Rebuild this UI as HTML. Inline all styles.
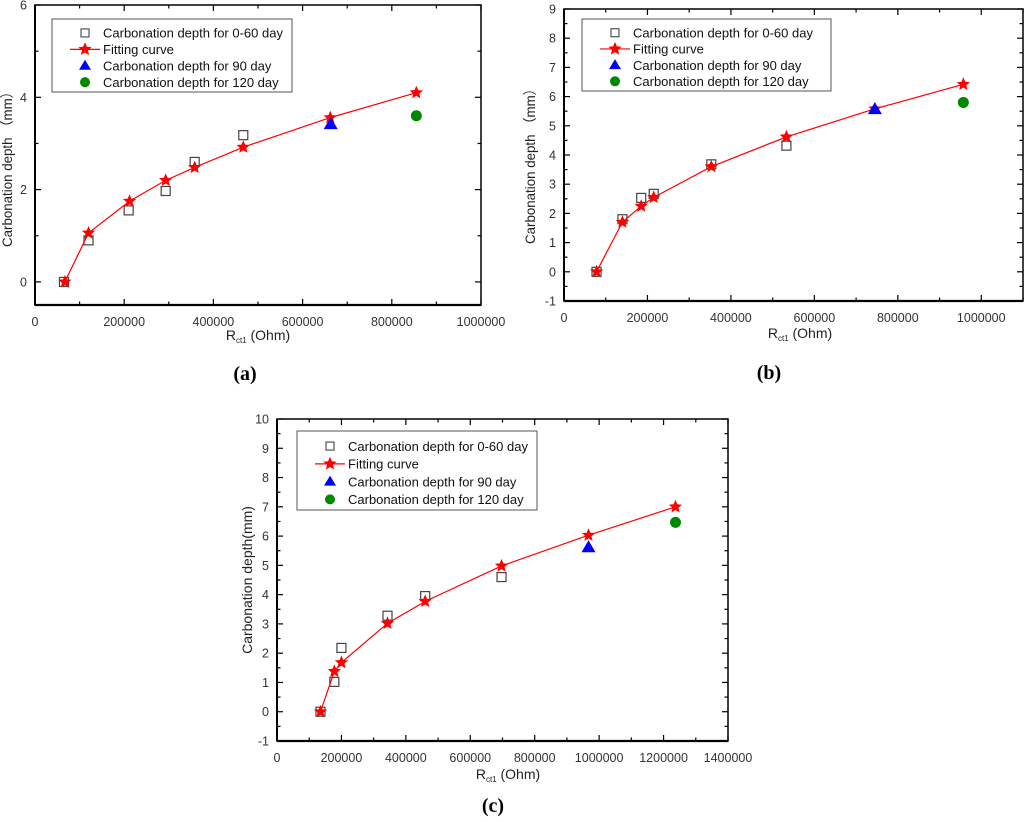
<!DOCTYPE html>
<html><head><meta charset="utf-8"><style>
html,body{margin:0;padding:0;background:#fff;}
svg{display:block;font-family:"Liberation Sans","Noto Sans CJK SC",sans-serif;}
</style></head><body>
<svg id="fig" width="1024" height="822" viewBox="0 0 1024 822" xmlns="http://www.w3.org/2000/svg"></svg>
<script>
// ---- chart (a) data ----
const aSqX=[65000,120000,210000,293000,358000,467000];
const aSqY=[0,0.9,1.55,1.97,2.6,3.18];
const aFitX=[67000,120000,212000,293000,358000,467000,662000,855000];
const aFitY=[0,1.06,1.75,2.2,2.48,2.92,3.56,4.1];
const aTriX=[663000]; const aTriY=[3.42];
const aCirX=[855000]; const aCirY=[3.6];
const aXTicks=[0,200000,400000,600000,800000,1000000];
const aYTicks=[0,2,4,6];
// ---- chart (b) data ----
const bSqX=[78000,140000,185000,215000,353000,533000];
const bSqY=[0,1.8,2.53,2.67,3.68,4.32];
const bFitX=[78000,140000,185000,215000,353000,533000,745000,957000];
const bFitY=[0,1.7,2.25,2.55,3.6,4.62,5.58,6.42];
const bTriX=[745000]; const bTriY=[5.57];
const bCirX=[957000]; const bCirY=[5.8];
const bXTicks=[0,200000,400000,600000,800000,1000000];
const bYTicks=[-1,0,1,2,3,4,5,6,7,8,9];
// ---- chart (c) data ----
const cSqX=[135000,178000,200000,343000,460000,697000];
const cSqY=[0,1.02,2.18,3.28,3.95,4.6];
const cFitX=[135000,178000,200000,343000,460000,697000,967000,1237000];
const cFitY=[0,1.38,1.68,3.02,3.77,4.98,6.03,7.0];
const cTriX=[967000]; const cTriY=[5.62];
const cCirX=[1237000]; const cCirY=[6.47];
const cXTicks=[0,200000,400000,600000,800000,1000000,1200000,1400000];
const cYTicks=[-1,0,1,2,3,4,5,6,7,8,9,10];

const NS="http://www.w3.org/2000/svg";
const svg=document.getElementById('fig');
function mk(tag,attrs,parent,text){
  const e=document.createElementNS(NS,tag);
  for(const k in attrs) e.setAttribute(k,attrs[k]);
  if(text!==undefined) e.textContent=text;
  (parent||svg).appendChild(e);
  return e;
}
function starPts(cx,cy,R){
  const r=R*0.45;let p=[];
  for(let i=0;i<10;i++){const a=-Math.PI/2+i*Math.PI/5;const rr=i%2?r:R;p.push((cx+rr*Math.cos(a)).toFixed(1)+','+(cy+rr*Math.sin(a)).toFixed(1));}
  return p.join(' ');
}
function chart(o){
  const g=mk('g',{});
  
  
  const X=v=>o.L+(v-o.x0)/(o.x1-o.x0)*(o.R-o.L);
  const Y=v=>o.B-(v-o.y0)/(o.y1-o.y0)*(o.B-o.T);
  const tg=mk('g',{stroke:'#000','stroke-width':1.2},g);
  
  
  const xs=o.xt[1]-o.xt[0];
  for(let v=o.x0;v<=o.x1+1;v+=xs/2){
    const major=Math.abs((v/xs)-Math.round(v/xs))<1e-6; const len=major?6:3.5; const x=X(v);
    mk('line',{x1:x,y1:o.B,x2:x,y2:o.B-len},tg); mk('line',{x1:x,y1:o.T,x2:x,y2:o.T+len},tg);
  }
  const ys=o.yt[1]-o.yt[0];
  for(let v=o.yt[0];v<=o.y1+1e-6;v+=ys/2){
    if(v<o.y0-1e-6) continue;
    const major=Math.abs((v-o.yt[0])/ys-Math.round((v-o.yt[0])/ys))<1e-6; const len=major?6:3.5; const y=Y(v);
    mk('line',{x1:o.L,y1:y,x2:o.L+len,y2:y},tg); mk('line',{x1:o.R,y1:y,x2:o.R-len,y2:y},tg);
  }
  mk('rect',{x:o.L,y:o.T,width:o.R-o.L,height:o.B-o.T,fill:'none',stroke:'#000','stroke-width':1.5},g);
  mk('line',{x1:o.L,y1:o.B,x2:o.R,y2:o.B,stroke:'#000','stroke-width':2.2},g);
  mk('line',{x1:o.L,y1:o.T,x2:o.L,y2:o.B,stroke:'#000','stroke-width':2},g);
  o.xt.forEach(v=>{const t=mk('text',{x:X(v),y:o.B+21,'text-anchor':'middle','font-size':12.5,fill:'#333'},g,String(v));});
  o.yt.forEach(v=>{const t=mk('text',{x:o.L-8,y:Y(v)+4.5,'text-anchor':'end','font-size':12.5,fill:'#333'},g,String(v));});
  const ya={x:0,y:0,transform:`translate(${o.ytx},${o.ytc||(o.T+o.B)/2}) rotate(-90)`,'text-anchor':'middle','font-size':14,fill:'#222'};
  if(o.ytlen){ya.textLength=o.ytlen;ya.lengthAdjust='spacingAndGlyphs';}
  const yt=mk('text',ya,g,o.ytitle);
  
  const xt=mk('text',{x:o.xtx,y:o.xty,'text-anchor':'middle','font-size':14,fill:'#222'},g);
  
  mk('tspan',{},xt,'R');mk('tspan',{'font-size':8,dy:3},xt,'ct1');mk('tspan',{dy:-3},xt,' (Ohm)');
  const cap=mk('text',{x:o.capx,y:o.capy,'text-anchor':'middle','font-size':20,'font-weight':'bold','font-family':'Liberation Serif, serif'},g,'('+o.id+')');
  
  o.sqX.forEach((x,i)=>{const r=mk('rect',{x:X(x)-4.5,y:Y(o.sqY[i])-4.5,width:9,height:9,fill:'none',stroke:'#444','stroke-width':1.2},g);});
  const pl=mk('polyline',{points:o.fX.map((x,i)=>X(x)+','+Y(o.fY[i])).join(' '),fill:'none',stroke:'#f00','stroke-width':1.2},g);
  
  o.fX.forEach((x,i)=>{const s=mk('polygon',{points:starPts(X(x),Y(o.fY[i]),7),fill:'#f00'},g);});
  o.tX.forEach((x,i)=>{const cx=X(x),cy=Y(o.tY[i]);const t=mk('polygon',{points:`${cx},${cy-7} ${cx-7},${cy+5} ${cx+7},${cy+5}`,fill:'#00f'},g);});
  o.cX.forEach((x,i)=>{const c=mk('circle',{cx:X(x),cy:Y(o.cY[i]),r:5.5,fill:'#080'},g);});
  const lg=mk('g',{},g);
  
  const [lx,ly,lw,lh]=o.leg;
  mk('rect',{x:lx,y:ly,width:lw,height:lh,fill:'#fff',stroke:'#555','stroke-width':1},lg);
  const step=lh/4.45, sx=lx+33, tx=lx+51;
  const labels=['Carbonation depth for 0-60 day','Fitting curve','Carbonation depth for 90 day','Carbonation depth for 120 day'];
  labels.forEach((s,i)=>{
    const cy=ly+step*(0.85+i);
    const e=mk('text',{x:tx,y:cy+4.7,'font-size':13,fill:'#111'},lg,s);
    
    if(i===0) mk('rect',{x:sx-4,y:cy-4,width:8,height:8,fill:'none',stroke:'#444','stroke-width':1.1},lg);
    if(i===1){mk('line',{x1:sx-15,y1:cy,x2:sx+15,y2:cy,stroke:'#f00','stroke-width':1.2},lg);mk('polygon',{points:starPts(sx,cy,7),fill:'#f00'},lg);}
    if(i===2) mk('polygon',{points:`${sx},${cy-6} ${sx-6},${cy+4} ${sx+6},${cy+4}`,fill:'#00f'},lg);
    if(i===3) mk('circle',{cx:sx,cy:cy,r:5,fill:'#080'},lg);
  });
}
chart({id:'a',L:35,R:481,T:5,B:305,x0:0,x1:1000000,y0:-0.5,y1:6,xt:aXTicks,yt:aYTicks,
  sqX:aSqX,sqY:aSqY,fX:aFitX,fY:aFitY,tX:aTriX,tY:aTriY,cX:aCirX,cY:aCirY,
  leg:[52,19,240,73],ytitle:'Carbonation depth （mm）',ytlen:162,ytc:166,ytx:12,xtx:258,xty:340,capx:245,capy:380});
chart({id:'b',L:564,R:1023,T:9,B:301,x0:0,x1:1100000,y0:-1,y1:9,xt:bXTicks,yt:bYTicks,
  sqX:bSqX,sqY:bSqY,fX:bFitX,fY:bFitY,tX:bTriX,tY:bTriY,cX:bCirX,cY:bCirY,
  leg:[582,19,249,72],ytitle:'Carbonation depth （mm）',ytlen:162,ytc:163,ytx:535,xtx:800,xty:338,capx:769,capy:379});
chart({id:'c',L:277,R:728,T:419,B:741,x0:0,x1:1400000,y0:-1,y1:10,xt:cXTicks,yt:cYTicks,
  sqX:cSqX,sqY:cSqY,fX:cFitX,fY:cFitY,tX:cTriX,tY:cTriY,cX:cCirX,cY:cCirY,
  leg:[297,431,240,79],ytitle:'Carbonation depth(mm)',ytx:252,xtx:508,xty:779,capx:493,capy:812});
</script>
</body></html>
